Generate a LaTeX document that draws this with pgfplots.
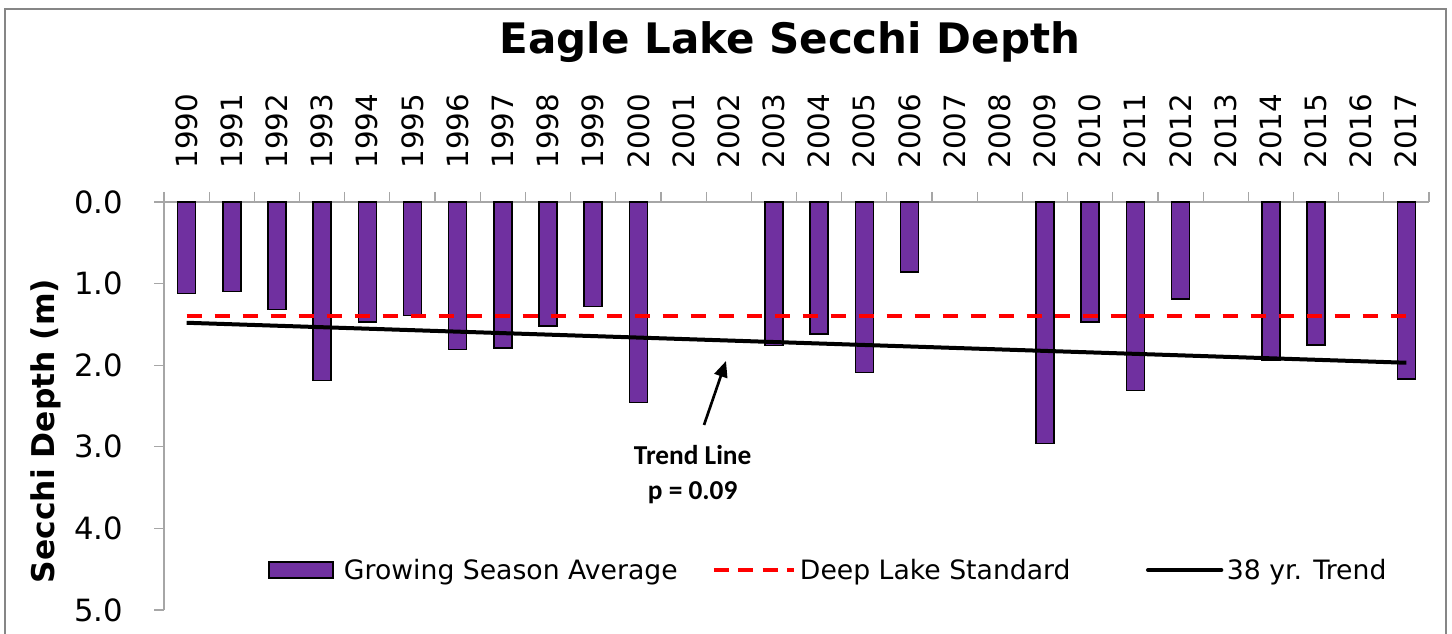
\documentclass[border=0pt]{standalone}
\usepackage{fontspec}
\setmainfont{DejaVu Sans}
\newfontfamily\calibri{Carlito}
\usepackage{pgfplots}
\pgfplotsset{compat=1.18}
\usetikzlibrary{arrows.meta}
\definecolor{barpurple}{RGB}{112,48,160}
\definecolor{axisgray}{RGB}{166,166,166}
\definecolor{bordergray}{RGB}{134,134,134}

\begin{document}
\begin{tikzpicture}
\useasboundingbox (-123pt,-18pt) rectangle (966pt,457.5pt);
\draw[bordergray, line width=1pt] (-119.25pt,-25pt) -- (-119.25pt,450.75pt) -- (961.5pt,450.75pt) -- (961.5pt,-25pt);
\node[anchor=base, font=\bfseries\fontsize{31.5}{36}\selectfont] at (469.5pt,417pt) {Eagle Lake Secchi Depth};
\begin{axis}[
    scale only axis,
    width=948.75pt, height=306pt,
    xmin=1989.5, xmax=2017.5,
    ymin=0, ymax=5,
    y dir=reverse,
    axis x line*=top,
    axis y line*=left,
    axis line style={axisgray, line width=0.9pt},
    xtick={1990,...,2017},
    minor xtick={1989.5,1990.5,...,2017.5},
    ytick={0,1,2,3,4,5},
    tick align=outside,
    major tick length=7.5pt,
    minor tick length=7.5pt,
    every major x tick/.append style={draw=none},
    every minor tick/.append style={axisgray, line width=0.9pt},
    every major y tick/.append style={axisgray, line width=0.9pt},
    xticklabel shift=17.5pt,
    yticklabel shift=23pt,
    xticklabel style={rotate=90, anchor=west, inner sep=0pt,
        font=\fontsize{22}{26}\selectfont,
        /pgf/number format/1000 sep={}, /pgf/number format/assume math mode=true},
    yticklabel style={anchor=east, inner sep=0pt,
        font=\fontsize{23}{27}\selectfont,
        /pgf/number format/.cd, fixed, fixed zerofill, precision=1, assume math mode=true},
    legend columns=3,
    legend cell align=left,
    legend style={at={(0.0822,0.098)}, anchor=west, draw=none, fill=none,
        inner sep=0pt, column sep=0pt, nodes={inner sep=0pt},
        font=\fontsize{20}{24}\selectfont},
]
\addplot[ybar, bar width=13.5pt, fill=barpurple, draw=black, line width=1.1pt,
    legend image code/.code={
        \draw[fill=barpurple, draw=black, line width=1.1pt] (0pt,-6pt) rectangle (48pt,6pt);
        \path[draw=none, fill=none] (0pt,0pt) -- (56.25pt,0pt);}]
coordinates {
(1990,1.12) (1991,1.10) (1992,1.32) (1993,2.19) (1994,1.47) (1995,1.39)
(1996,1.81) (1997,1.79) (1998,1.52) (1999,1.28) (2000,2.46)
(2003,1.76) (2004,1.62) (2005,2.09) (2006,0.86)
(2009,2.96) (2010,1.47) (2011,2.31) (2012,1.19)
(2014,1.94) (2015,1.75) (2017,2.17)
};
\addplot[red, line width=3pt, dash pattern=on 11.25pt off 9.75pt,
    legend image code/.code={
        \draw[red, line width=3pt, dash pattern=on 11.25pt off 7pt] (0pt,0pt) -- (60pt,0pt);
        \path[draw=none, fill=none] (0pt,0pt) -- (64.5pt,0pt);}]
coordinates {(1990,1.4) (2017,1.4)};
\addplot[black, line width=3pt,
    legend image code/.code={
        \draw[black, line width=3pt, line cap=round] (0pt,0pt) -- (55pt,0pt);
        \path[draw=none, fill=none] (0pt,0pt) -- (59.25pt,0pt);}]
coordinates {(1990,1.48) (2017,1.97)};
\legend{\makebox[276pt][l]{Growing Season Average}, \makebox[259.5pt][l]{Deep Lake Standard}, 38 yr. Trend}
\end{axis}
\node[rotate=90, anchor=base, font=\bfseries\fontsize{23.5}{28}\selectfont] at (-81.75pt,134.25pt) {Secchi Depth (m)};
\draw[line width=2pt, -{Triangle[length=12pt,width=10pt]}] (405pt,138.75pt) -- (421.5pt,186.75pt);
\node[align=center, font=\calibri\bfseries\fontsize{20.5}{26.25}\selectfont] at (396.5pt,101.6pt) {Trend Line\\p = 0.09};
\end{tikzpicture}
\end{document}
